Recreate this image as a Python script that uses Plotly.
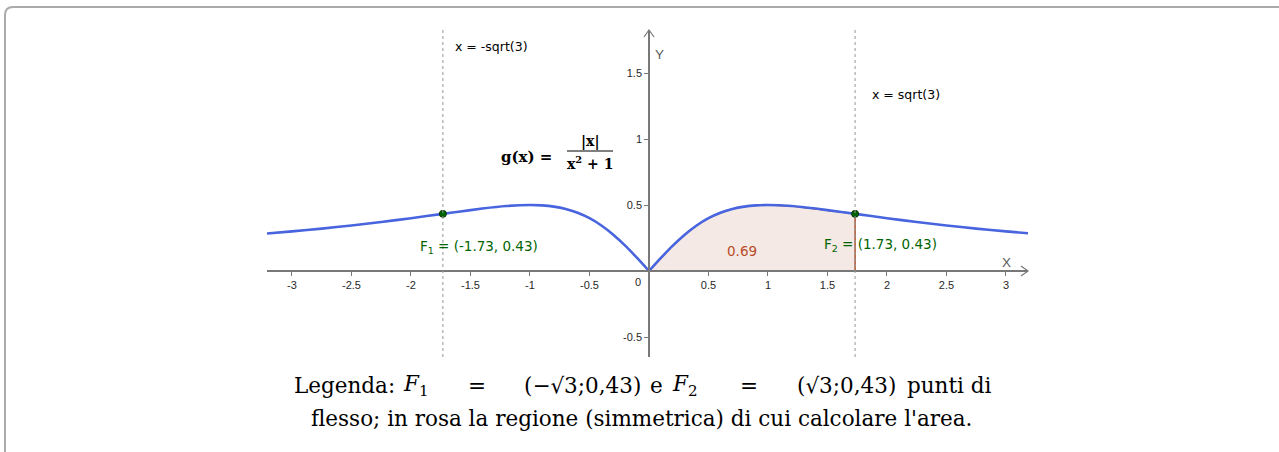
import plotly.graph_objects as go

W, H = 1279, 452

# ---------------- data ----------------
curve_x = [-3.21, -3.0, -2.75, -2.5, -2.25, -2.0, -1.732, -1.6, -1.4, -1.2, -1.0, -0.9, -0.8,
           -0.7, -0.6, -0.5, -0.4, -0.3, -0.2, -0.1, 0.0,
           0.1, 0.2, 0.3, 0.4, 0.5, 0.6, 0.7, 0.8, 0.9, 1.0, 1.2, 1.4, 1.6, 1.732,
           2.0, 2.25, 2.5, 2.75, 3.0, 3.19]
curve_y = [0.284, 0.300, 0.321, 0.345, 0.371, 0.400, 0.433, 0.449, 0.473, 0.492, 0.500, 0.497, 0.488,
           0.470, 0.441, 0.400, 0.345, 0.275, 0.192, 0.099, 0.0,
           0.099, 0.192, 0.275, 0.345, 0.400, 0.441, 0.470, 0.488, 0.497, 0.500, 0.492, 0.473, 0.449, 0.433,
           0.400, 0.371, 0.345, 0.321, 0.300, 0.286]

area_label = "0.69"
area_pos = (0.78, 0.15)

flex_x = [-1.732, 1.732]
flex_y = [0.433, 0.433]
flex_labels = ["F<sub>1</sub> = (-1.73, 0.43)", "F<sub>2</sub> = (1.73, 0.43)"]
flex_label_pos = [(-1.94, 0.185), (1.455, 0.195)]

vline_x = [-1.732, 1.732]
vline_labels = ["x = -sqrt(3)", "x = sqrt(3)"]
vline_label_pos = [(-1.65, 1.70), (1.86, 1.335)]

x_ticks = [-3, -2.5, -2, -1.5, -1, -0.5, 0.5, 1, 1.5, 2, 2.5, 3]
x_tick_text = ["-3", "-2.5", "-2", "-1.5", "-1", "-0.5", "0.5", "1", "1.5", "2", "2.5", "3"]
y_ticks = [-0.5, 0.5, 1, 1.5]
y_tick_text = ["-0.5", "0.5", "1", "1.5"]

x_range = [-3.21, 3.185]
y_range = [-0.6515, 1.8258]

caption_line1 = ["Legenda:", "<i>F</i><sub>1</sub>", "=", "(−√3;0,43)", "e",
                 "<i>F</i><sub>2</sub>", "=", "(√3;0,43)", "punti di"]
caption_line2 = "flesso; in rosa la regione (simmetrica) di cui calcolare l'area."

# ---------------- layout helpers ----------------
def px(x):
    return x / W

def py(y):
    return 1 - y / H

x_dom = [px(267), px(1028)]
y_dom = [py(357), py(30)]

def xpaper(v):
    return x_dom[0] + (v - x_range[0]) / (x_range[1] - x_range[0]) * (x_dom[1] - x_dom[0])

def ypaper(v):
    return y_dom[0] + (v - y_range[0]) / (y_range[1] - y_range[0]) * (y_dom[1] - y_dom[0])

BLUE = "rgb(72,100,222)"
BROWN = "rgb(160,60,20)"
GREEN = "rgb(0,100,0)"
AXIS = "rgb(120,120,120)"

fig = go.Figure()

# shaded region between 0 and sqrt(3)
i0 = curve_x.index(0.0)
i1 = curve_x.index(1.732)
reg_x = curve_x[i0:i1 + 1] + [curve_x[i1], curve_x[i0]]
reg_y = curve_y[i0:i1 + 1] + [0.0, 0.0]
fig.add_trace(go.Scatter(x=reg_x, y=reg_y, mode="lines", fill="toself",
                         fillcolor="rgba(240,226,220,0.75)",
                         line=dict(color=BROWN, width=1.3), hoverinfo="skip"))

# curve, left and right branches
fig.add_trace(go.Scatter(x=curve_x[:i0 + 1], y=curve_y[:i0 + 1], mode="lines",
                         line=dict(color=BLUE, width=2.6, shape="spline", smoothing=0.6)))
fig.add_trace(go.Scatter(x=curve_x[i0:], y=curve_y[i0:], mode="lines",
                         line=dict(color=BLUE, width=2.6, shape="spline", smoothing=0.6)))

# inflection points
fig.add_trace(go.Scatter(x=flex_x, y=flex_y, mode="markers",
                         marker=dict(color=GREEN, size=7, line=dict(color="rgb(0,50,0)", width=1))))

shapes = []
for vx in vline_x:
    shapes.append(dict(type="line", xref="x", yref="paper", x0=vx, x1=vx,
                       y0=py(357), y1=py(30),
                       line=dict(color="rgb(150,150,150)", width=1, dash="dot")))
# axis arrows (open chevrons)
shapes.append(dict(type="path", xref="paper", yref="paper",
                   path=f"M {px(1021)},{py(266)} L {px(1028)},{py(271)} L {px(1021)},{py(276)}",
                   line=dict(color=AXIS, width=1.2)))
shapes.append(dict(type="path", xref="paper", yref="paper",
                   path=f"M {px(644)},{py(37)} L {px(649)},{py(30)} L {px(654)},{py(37)}",
                   line=dict(color=AXIS, width=1.2)))
# fraction bar of the formula
shapes.append(dict(type="line", xref="paper", yref="paper",
                   x0=px(567), x1=px(613), y0=py(151), y1=py(151),
                   line=dict(color="black", width=1.2)))
# outer frame with rounded top-left corner
shapes.append(dict(type="path", xref="paper", yref="paper",
                   path=f"M {px(5)},{py(460)} L {px(5)},{py(15)} Q {px(5)},{py(7)} {px(13)},{py(7)} L {px(1290)},{py(7)}",
                   line=dict(color="rgb(170,170,170)", width=2)))

ann = []
sans = "Liberation Sans, Arial, sans-serif"
label_font = "DejaVu Sans, sans-serif"
for (lx, ly), t in zip(flex_label_pos, flex_labels):
    ann.append(dict(x=lx, y=ly, xref="x", yref="y", text=t, showarrow=False,
                    xanchor="left", yanchor="middle",
                    font=dict(family=label_font, size=13.5, color=GREEN)))
for (lx, ly), t in zip(vline_label_pos, vline_labels):
    ann.append(dict(x=lx, y=ly, xref="x", yref="y", text=t, showarrow=False,
                    xanchor="left", yanchor="middle",
                    font=dict(family=label_font, size=12.5, color="black")))
ann.append(dict(x=area_pos[0], y=area_pos[1], xref="x", yref="y", text=area_label,
                showarrow=False, font=dict(family=label_font, size=13.5, color="rgb(185,75,35)")))
ann.append(dict(x=px(1013), y=py(262), xref="paper", yref="paper", text="X", showarrow=False,
                font=dict(family=sans, size=13.5, color="rgb(90,90,90)")))
ann.append(dict(x=px(659), y=py(45), xref="paper", yref="paper", text="Y", showarrow=False,
                font=dict(family=sans, size=13.5, color="rgb(90,90,90)")))
ann.append(dict(x=px(638), y=py(282), xref="paper", yref="paper", text="0", showarrow=False,
                font=dict(family=sans, size=11, color="rgb(40,40,40)")))
# formula
serif = "DejaVu Serif, serif"
ann.append(dict(x=px(499), y=py(157), xref="paper", yref="paper", text="<b>g(x) =</b>",
                showarrow=False, xanchor="left", yanchor="middle",
                font=dict(family=serif, size=15, color="black")))
ann.append(dict(x=px(590), y=py(141), xref="paper", yref="paper", text="<b>|x|</b>",
                showarrow=False, xanchor="center", yanchor="middle",
                font=dict(family=serif, size=14, color="black")))
ann.append(dict(x=px(590), y=py(163), xref="paper", yref="paper", text="<b>x<sup>2</sup> + 1</b>",
                showarrow=False, xanchor="center", yanchor="middle",
                font=dict(family=serif, size=14, color="black")))

# caption (justified first line laid out piece by piece)
cap_font = dict(family="DejaVu Serif, serif", size=21.5, color="black")
cap1_left = [292, 401, 466, 522, 648, 670, 738, 795, 905]
for lx, t in zip(cap1_left, caption_line1):
    ann.append(dict(x=px(lx), y=py(385), xref="paper", yref="paper", text=t, showarrow=False,
                    xanchor="left", yanchor="middle", font=cap_font))
ann.append(dict(x=px(641), y=py(418), xref="paper", yref="paper", text=caption_line2,
                showarrow=False, xanchor="center", yanchor="middle", font=cap_font))

tick_font = dict(family=sans, size=11, color="rgb(40,40,40)")
fig.update_layout(
    width=W, height=H, autosize=False,
    margin=dict(l=0, r=0, t=0, b=0),
    paper_bgcolor="white", plot_bgcolor="white",
    showlegend=False,
    xaxis=dict(domain=x_dom, range=x_range, anchor="free", position=ypaper(0),
               showgrid=False, zeroline=False, showline=True, linecolor=AXIS, linewidth=1.5,
               tickmode="array", tickvals=x_ticks, ticktext=x_tick_text,
               ticks="outside", ticklen=4, tickcolor=AXIS, tickfont=tick_font),
    yaxis=dict(domain=y_dom, range=y_range, anchor="free", position=xpaper(0),
               showgrid=False, zeroline=False, showline=True, linecolor=AXIS, linewidth=1.5,
               tickmode="array", tickvals=y_ticks, ticktext=y_tick_text,
               ticks="outside", ticklen=4, tickcolor=AXIS, tickfont=tick_font),
    shapes=shapes, annotations=ann,
)

fig.write_html("out.html", config={"displayModeBar": False},
               post_script="document.body.style.margin='0px';document.body.style.overflow='hidden';")
